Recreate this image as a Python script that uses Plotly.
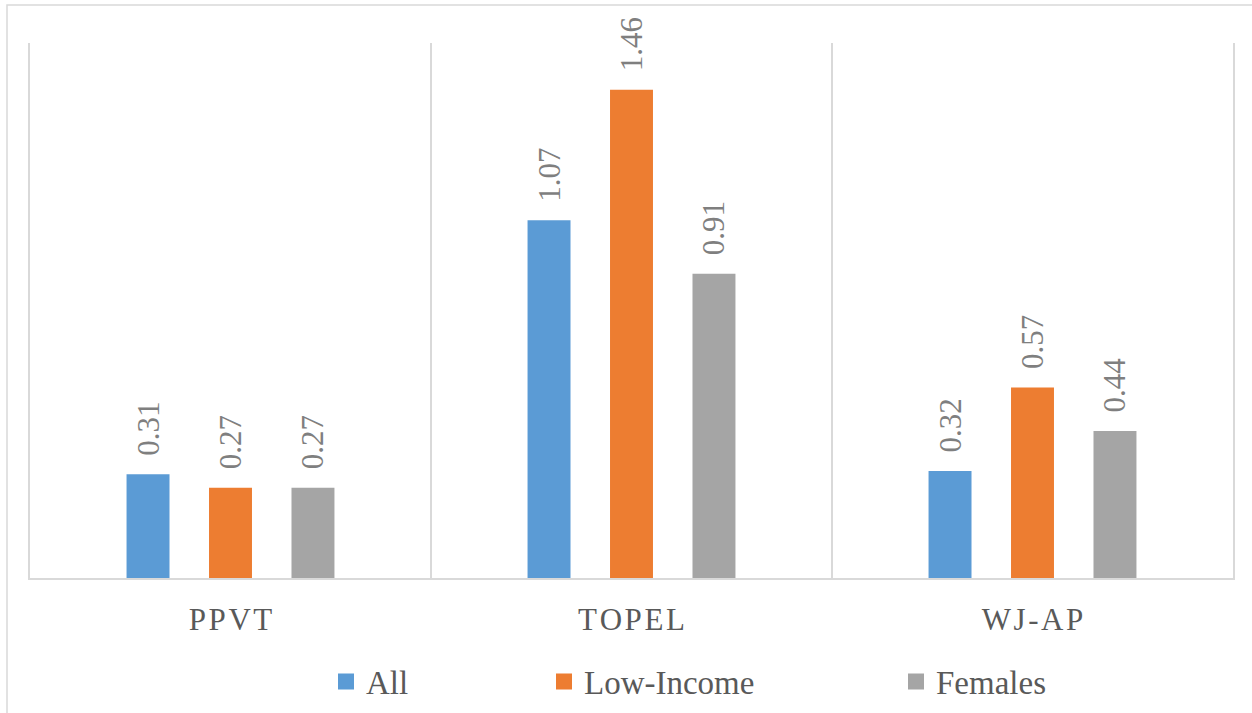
import plotly.graph_objects as go

# Effect sizes by outcome measure and subgroup
measures = ["PPVT", "TOPEL", "WJ-AP"]
series_names = ["All", "Low-Income", "Females"]
all_vals = [0.31, 1.07, 0.32]
low_income_vals = [0.27, 1.46, 0.57]
female_vals = [0.27, 0.91, 0.44]
colors = ["#5B9BD5", "#ED7D31", "#A5A5A5"]

SERIF = "Liberation Serif"
HAIR = "\u200a"


def spaced(label):
    # slight tracking between letters of the axis labels
    return HAIR.join(label)


tick_text = [spaced(m) for m in measures]

fig = go.Figure()

for name, vals, col in zip(series_names, [all_vals, low_income_vals, female_vals], colors):
    fig.add_trace(go.Bar(
        name=name,
        x=measures,
        y=vals,
        marker=dict(color=col, line=dict(width=0)),
        texttemplate="\u00a0\u00a0%{y:.2f}",
        textposition="outside",
        textangle=-90,
        constraintext="none",
        textfont=dict(family=SERIF, size=31, color="#7F7F7F"),
        cliponaxis=False,
        showlegend=False,
    ))

# Square swatches for the legend, one legend per series
legend_ids = ["legend", "legend2", "legend3"]
for name, col, lid in zip(series_names, colors, legend_ids):
    fig.add_trace(go.Scatter(
        name=name,
        x=[None], y=[None],
        mode="markers",
        marker=dict(symbol="square", size=17, color=col),
        legend=lid,
        showlegend=True,
        hoverinfo="skip",
    ))

W, H = 1252, 713
legend_font = dict(family=SERIF, size=33, color="#595959")
legend_common = dict(
    orientation="h", font=legend_font, bgcolor="rgba(0,0,0,0)",
    xref="container", yref="container",
    xanchor="left", yanchor="middle", y=1 - 681.5 / H, borderwidth=0,
)

fig.update_layout(
    width=W, height=H,
    margin=dict(l=30, r=19, t=43, b=135, autoexpand=False),
    paper_bgcolor="white", plot_bgcolor="white",
    barmode="group", bargap=0.383, bargroupgap=0.479,
    legend=dict(x=326 / W, **legend_common),
    legend2=dict(x=544 / W, **legend_common),
    legend3=dict(x=896 / W, **legend_common),
    xaxis=dict(
        tickmode="array", tickvals=measures, ticktext=tick_text,
        tickson="boundaries", showgrid=True, gridcolor="#D9D9D9", gridwidth=1.5,
        showline=True, linecolor="#D9D9D9", linewidth=2,
        ticks="", ticklabelstandoff=13, automargin=False,
        tickfont=dict(family=SERIF, size=31, color="#595959"),
    ),
    yaxis=dict(
        range=[0, 1.6], showgrid=False, zeroline=False, showticklabels=False,
        showline=True, mirror=True, linecolor="#D9D9D9", linewidth=1.5, ticks="",
        automargin=False,
    ),
    shapes=[dict(
        type="rect", xref="paper", yref="paper",
        x0=(7 - 30) / 1203, x1=1.2, y0=-0.6, y1=(578 - 5) / 535,
        line=dict(color="#D9D9D9", width=1.5), fillcolor="rgba(0,0,0,0)", layer="below",
    )],
)

fig.write_html("out.html")
